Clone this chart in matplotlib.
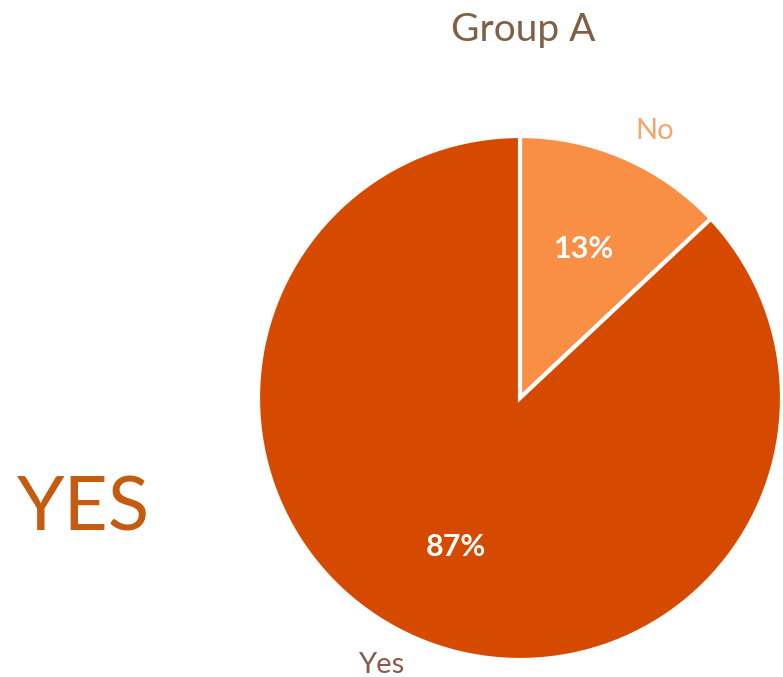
import matplotlib.pyplot as plt

# Datos del gráfico
categorias = ['No', 'Yes']
valores = [13, 87]
colores = ['#F98E45', '#D64A00']
titulo = 'Group A'
texto_lateral = 'YES'

plt.rcParams['font.family'] = ['Lato', 'DejaVu Sans']

fig = plt.figure(figsize=(7.83, 6.77), dpi=100)
ax = fig.add_axes([0, 0, 1, 1])

wedges, labels, pcts = ax.pie(
    valores, labels=categorias, colors=colores,
    startangle=90, counterclock=False,
    center=(520, 279), radius=262,
    autopct='%1.0f%%', pctdistance=0.62, labeldistance=1.11,
    wedgeprops=dict(edgecolor='white', linewidth=3),
    frame=True)

ax.set_xlim(0, 783)
ax.set_ylim(0, 677)
ax.set_aspect('equal')
ax.axis('off')

# matplotlib alinea las etiquetas según el signo de x absoluto; corregir
labels[0].set_ha('left')
labels[1].set_ha('right')
labels[0].set_color('#F4A46C')
labels[1].set_color('#8B5A4A')
for t in labels:
    t.set_fontsize(21)
for t in pcts:
    t.set_color('white')
    t.set_fontsize(22)
    t.set_fontweight('bold')

ax.text(523, 647, titulo, ha='center', va='center', fontsize=28, color='#7F6045')
ax.text(84, 168, texto_lateral, ha='center', va='center', fontsize=55, color='#C55A11')

fig.savefig('out.png', dpi=100)
